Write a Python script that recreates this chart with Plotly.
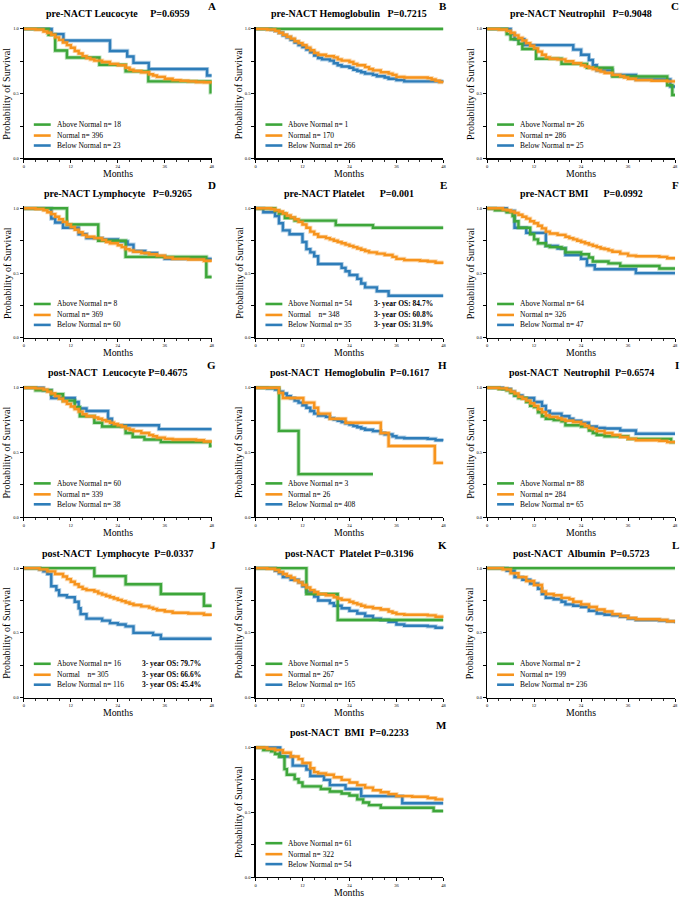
import plotly.graph_objects as go

# ---------------- data (Kaplan-Meier step points: months, survival) ----------------
A_above_t = [0, 6.3, 8, 11, 19.3, 26, 31.8, 47.7, 48]
A_above_s = [1.0, 0.954, 0.833, 0.779, 0.723, 0.672, 0.595, 0.51, 0.51]
A_normal_t = [0, 3, 5, 6, 7, 8, 9, 10, 11, 12, 13, 14, 15, 16, 17, 18, 20, 22, 24, 26, 27, 28, 30, 32, 33, 34, 36, 38, 40, 42, 44, 46, 48]
A_normal_s = [1.0, 0.995, 0.98, 0.97, 0.955, 0.935, 0.915, 0.895, 0.875, 0.855, 0.83, 0.81, 0.79, 0.775, 0.765, 0.755, 0.745, 0.73, 0.72, 0.70, 0.685, 0.675, 0.665, 0.65, 0.64, 0.63, 0.615, 0.605, 0.60, 0.595, 0.59, 0.588, 0.585]
A_below_t = [0, 7.1, 10.1, 22, 26.4, 28, 31.9, 46.8, 48]
A_below_s = [1.0, 0.96, 0.91, 0.83, 0.787, 0.738, 0.69, 0.64, 0.64]

B_above_t = [0, 48]
B_above_s = [1.0, 1.0]
B_normal_t = [0, 3, 5, 6, 7, 8, 9, 10, 11, 12, 13, 14, 15, 16, 18, 20, 21, 22, 24, 25, 26, 28, 29, 30, 32, 34, 35, 36, 38, 44, 45, 46, 47, 48]
B_normal_s = [1.0, 0.995, 0.985, 0.97, 0.955, 0.94, 0.925, 0.905, 0.89, 0.875, 0.855, 0.835, 0.815, 0.80, 0.79, 0.78, 0.765, 0.755, 0.745, 0.73, 0.72, 0.705, 0.69, 0.68, 0.665, 0.655, 0.645, 0.63, 0.625, 0.62, 0.61, 0.60, 0.59, 0.585]
B_below_t = [0, 4, 5, 6, 7, 8, 9, 10, 11, 12, 13, 14, 15, 16, 17, 19, 20, 21, 22, 24, 25, 26, 27, 28, 30, 31, 33, 34, 36, 38, 48]
B_below_s = [1.0, 0.995, 0.985, 0.97, 0.95, 0.935, 0.915, 0.895, 0.875, 0.86, 0.84, 0.82, 0.795, 0.775, 0.765, 0.755, 0.735, 0.72, 0.71, 0.70, 0.685, 0.675, 0.665, 0.655, 0.645, 0.635, 0.625, 0.615, 0.605, 0.595, 0.59]

C_above_t = [0, 5, 6, 8, 9, 12.5, 19, 25.5, 32, 46, 47.3, 48]
C_above_s = [1.0, 0.96, 0.92, 0.885, 0.845, 0.77, 0.73, 0.70, 0.633, 0.565, 0.49, 0.49]
C_normal_t = [0, 3, 5, 6, 7, 8, 9, 10, 11, 12, 13, 14, 15, 16, 18, 20, 22, 24, 25, 26, 27, 28, 29, 30, 32, 34, 35, 36, 38, 42, 46, 48]
C_normal_s = [1.0, 0.995, 0.985, 0.97, 0.95, 0.93, 0.91, 0.89, 0.87, 0.85, 0.825, 0.80, 0.78, 0.77, 0.765, 0.75, 0.735, 0.72, 0.71, 0.70, 0.69, 0.68, 0.67, 0.66, 0.645, 0.635, 0.625, 0.615, 0.605, 0.60, 0.595, 0.59]
C_below_t = [0, 6, 7, 9.5, 22, 24, 26, 27, 28, 32, 38, 46.8, 48]
C_below_s = [1.0, 0.96, 0.92, 0.875, 0.84, 0.80, 0.76, 0.72, 0.68, 0.645, 0.61, 0.555, 0.555]

D_above_t = [0, 11, 19, 26, 46.6, 48]
D_above_s = [1.0, 0.875, 0.75, 0.625, 0.47, 0.47]
D_normal_t = [0, 3, 5, 6, 7, 8, 9, 10, 11, 12, 13, 14, 15, 16, 18, 20, 21, 22, 24, 25, 26, 27, 28, 30, 32, 34, 36, 38, 42, 46, 48]
D_normal_s = [1.0, 0.995, 0.985, 0.97, 0.955, 0.935, 0.915, 0.895, 0.875, 0.855, 0.835, 0.815, 0.795, 0.78, 0.77, 0.755, 0.74, 0.73, 0.715, 0.70, 0.685, 0.675, 0.665, 0.655, 0.645, 0.635, 0.62, 0.61, 0.605, 0.595, 0.585]
D_below_t = [0, 7, 8, 10, 14, 16, 20, 24, 26.5, 28, 31, 34, 36, 48]
D_below_s = [1.0, 0.92, 0.89, 0.85, 0.80, 0.77, 0.76, 0.745, 0.72, 0.67, 0.655, 0.63, 0.61, 0.605]

E_above_t = [0, 5, 6, 7.5, 10, 20.5, 30, 48]
E_above_s = [1.0, 0.98, 0.96, 0.925, 0.905, 0.87, 0.85, 0.85]
E_normal_t = [0, 4, 5, 6, 7, 8, 9, 10, 11, 12, 13, 14, 15, 16, 18, 19, 20, 21, 22, 23, 24, 25, 26, 27, 28, 29, 31, 33, 35, 36, 38, 42, 44, 46, 48]
E_normal_s = [1.0, 0.995, 0.985, 0.975, 0.96, 0.945, 0.93, 0.915, 0.895, 0.875, 0.85, 0.82, 0.80, 0.78, 0.77, 0.76, 0.75, 0.74, 0.73, 0.72, 0.71, 0.70, 0.69, 0.68, 0.67, 0.66, 0.65, 0.64, 0.625, 0.61, 0.60, 0.595, 0.59, 0.58, 0.57]
E_below_t = [0, 2, 5, 6, 7, 8.7, 12, 13, 14, 15, 16, 22, 23, 24, 26, 27, 28, 31, 34, 48]
E_below_s = [1.0, 0.97, 0.94, 0.885, 0.83, 0.80, 0.74, 0.685, 0.66, 0.63, 0.57, 0.54, 0.514, 0.485, 0.455, 0.42, 0.39, 0.36, 0.325, 0.325]

F_above_t = [0, 2, 5, 6.5, 7, 8, 11, 12, 13, 15, 16, 19, 20, 24, 26, 27, 31, 34, 44, 48]
F_above_s = [1.0, 0.985, 0.97, 0.94, 0.90, 0.85, 0.80, 0.76, 0.73, 0.71, 0.70, 0.69, 0.66, 0.645, 0.62, 0.59, 0.575, 0.555, 0.535, 0.535]
F_normal_t = [0, 4, 5, 6, 7, 8, 9, 10, 11, 12, 13, 14, 15, 16, 18, 20, 21, 22, 23, 24, 25, 26, 27, 28, 29, 30, 31, 32, 34, 36, 38, 44, 46, 48]
F_normal_s = [1.0, 0.99, 0.985, 0.975, 0.965, 0.95, 0.935, 0.92, 0.90, 0.885, 0.865, 0.845, 0.82, 0.805, 0.795, 0.78, 0.77, 0.76, 0.75, 0.74, 0.73, 0.72, 0.71, 0.70, 0.69, 0.685, 0.675, 0.665, 0.65, 0.635, 0.63, 0.625, 0.615, 0.605]
F_below_t = [0, 5, 7, 10, 15, 18, 20, 24, 25.5, 27.5, 38, 48]
F_below_s = [1.0, 0.98, 0.85, 0.81, 0.71, 0.69, 0.64, 0.61, 0.56, 0.53, 0.50, 0.50]

G_above_t = [0, 3, 7, 10, 13, 14.3, 18, 20, 26, 27.8, 30.8, 35, 47.6, 48]
G_above_s = [1.0, 0.98, 0.95, 0.90, 0.85, 0.78, 0.73, 0.70, 0.65, 0.62, 0.60, 0.58, 0.55, 0.55]
G_normal_t = [0, 3, 5, 6, 7, 8, 9, 10, 11, 12, 13, 14, 15, 16, 18, 19, 20, 21, 22, 23, 24, 25, 26, 27, 28, 30, 32, 33, 34, 36, 38, 44, 46, 48]
G_normal_s = [1.0, 0.995, 0.985, 0.97, 0.955, 0.935, 0.915, 0.895, 0.875, 0.855, 0.835, 0.815, 0.795, 0.78, 0.77, 0.76, 0.75, 0.74, 0.73, 0.72, 0.71, 0.70, 0.685, 0.675, 0.665, 0.65, 0.635, 0.625, 0.615, 0.605, 0.60, 0.595, 0.585, 0.575]
G_below_t = [0, 5, 7, 13, 14, 16, 21.5, 22.5, 34.5, 48]
G_below_s = [1.0, 0.98, 0.92, 0.89, 0.84, 0.82, 0.76, 0.71, 0.68, 0.68]

H_above_t = [0, 6, 11, 30]
H_above_s = [1.0, 0.667, 0.333, 0.333]
H_normal_t = [0, 6, 7, 12.2, 15, 16, 19, 23, 32, 34, 45.8, 48]
H_normal_s = [1.0, 0.96, 0.92, 0.885, 0.845, 0.80, 0.76, 0.73, 0.65, 0.55, 0.42, 0.42]
H_below_t = [0, 3, 5, 6, 7, 8, 9, 10, 11, 12, 13, 14, 15, 16, 18, 19, 20, 21, 22, 23, 24, 25, 26, 27, 28, 30, 32, 33, 35, 36, 38, 44, 46, 48]
H_below_s = [1.0, 0.995, 0.985, 0.97, 0.955, 0.935, 0.92, 0.90, 0.885, 0.865, 0.845, 0.82, 0.80, 0.785, 0.775, 0.765, 0.755, 0.745, 0.735, 0.725, 0.715, 0.705, 0.695, 0.685, 0.675, 0.665, 0.65, 0.64, 0.625, 0.615, 0.61, 0.605, 0.595, 0.59]

I_above_t = [0, 3, 5, 6, 7, 8, 10, 11, 12, 13, 14, 15, 17, 19, 20, 24, 26, 27, 28, 30, 36, 47, 48]
I_above_s = [1.0, 0.99, 0.98, 0.96, 0.94, 0.92, 0.89, 0.86, 0.85, 0.81, 0.78, 0.76, 0.75, 0.74, 0.71, 0.70, 0.67, 0.65, 0.635, 0.625, 0.605, 0.58, 0.58]
I_normal_t = [0, 3, 5, 6, 7, 8, 9, 10, 11, 12, 13, 14, 15, 16, 18, 19, 20, 22, 24, 25, 26, 27, 28, 30, 32, 34, 36, 38, 44, 46, 48]
I_normal_s = [1.0, 0.995, 0.985, 0.97, 0.955, 0.93, 0.915, 0.90, 0.88, 0.86, 0.835, 0.81, 0.785, 0.775, 0.765, 0.755, 0.745, 0.735, 0.72, 0.705, 0.69, 0.68, 0.665, 0.65, 0.635, 0.62, 0.605, 0.595, 0.59, 0.58, 0.575]
I_below_t = [0, 4, 6, 7, 9, 12, 14, 15, 16, 19, 21, 22, 24, 26, 28, 30, 34, 38, 48]
I_below_s = [1.0, 0.99, 0.97, 0.94, 0.92, 0.89, 0.86, 0.82, 0.80, 0.78, 0.76, 0.745, 0.73, 0.70, 0.69, 0.685, 0.67, 0.645, 0.645]

J_above_t = [0, 18, 26, 35, 46, 48]
J_above_s = [1.0, 0.938, 0.875, 0.80, 0.71, 0.71]
J_normal_t = [0, 4, 6, 8, 10, 11, 12, 13, 14, 15, 16, 18, 19, 20, 21, 22, 23, 24, 25, 26, 27, 28, 30, 32, 33, 34, 36, 38, 42, 46, 48]
J_normal_s = [1.0, 0.99, 0.975, 0.955, 0.935, 0.915, 0.895, 0.875, 0.855, 0.84, 0.83, 0.82, 0.805, 0.795, 0.785, 0.775, 0.765, 0.755, 0.745, 0.735, 0.725, 0.715, 0.705, 0.695, 0.685, 0.675, 0.665, 0.655, 0.65, 0.64, 0.63]
J_below_t = [0, 4, 5, 6, 7, 8.3, 9, 11, 13, 14, 14.5, 16, 20, 22, 24, 26, 28, 33, 35, 48]
J_below_s = [1.0, 0.99, 0.975, 0.955, 0.86, 0.83, 0.79, 0.775, 0.74, 0.69, 0.645, 0.61, 0.595, 0.575, 0.565, 0.55, 0.50, 0.485, 0.455, 0.455]

K_above_t = [0, 13, 21, 48]
K_above_s = [1.0, 0.80, 0.60, 0.60]
K_normal_t = [0, 3, 5, 6, 7, 8, 9, 10, 11, 12, 13, 14, 15, 16, 18, 20, 21, 22, 24, 25, 26, 27, 28, 30, 32, 34, 35, 36, 38, 44, 46, 48]
K_normal_s = [1.0, 0.995, 0.985, 0.97, 0.955, 0.94, 0.925, 0.905, 0.89, 0.87, 0.85, 0.83, 0.815, 0.80, 0.79, 0.775, 0.765, 0.755, 0.74, 0.73, 0.72, 0.71, 0.70, 0.69, 0.68, 0.665, 0.655, 0.645, 0.64, 0.635, 0.625, 0.615]
K_below_t = [0, 5, 6, 7, 9, 11, 12, 13, 15, 16, 19, 20, 22, 24, 26, 28, 30, 32, 34, 36, 38, 44, 46, 48]
K_below_s = [1.0, 0.98, 0.96, 0.93, 0.91, 0.89, 0.86, 0.82, 0.78, 0.75, 0.73, 0.71, 0.69, 0.67, 0.65, 0.63, 0.61, 0.60, 0.585, 0.565, 0.555, 0.55, 0.54, 0.535]

L_above_t = [0, 48]
L_above_s = [1.0, 1.0]
L_normal_t = [0, 4, 6, 8, 10, 12, 14, 15, 17, 19, 21, 22, 24, 26, 28, 30, 32, 34, 36, 38, 44, 46, 48]
L_normal_s = [1.0, 0.99, 0.96, 0.93, 0.90, 0.87, 0.82, 0.80, 0.79, 0.77, 0.76, 0.74, 0.72, 0.70, 0.68, 0.665, 0.645, 0.63, 0.615, 0.605, 0.60, 0.59, 0.58]
L_below_t = [0, 5, 7, 9, 11, 13, 14, 15, 17, 19, 20, 22, 24, 26, 28, 30, 32, 34, 36, 38, 44, 46, 48]
L_below_s = [1.0, 0.98, 0.93, 0.91, 0.88, 0.84, 0.80, 0.77, 0.76, 0.74, 0.72, 0.71, 0.70, 0.67, 0.65, 0.64, 0.635, 0.625, 0.61, 0.60, 0.595, 0.59, 0.575]

M_above_t = [0, 2, 4, 5, 6, 7.4, 8, 10, 11, 12, 16.7, 19, 22, 24, 26, 27.5, 29, 32, 45.5, 48]
M_above_s = [1.0, 0.98, 0.97, 0.95, 0.93, 0.833, 0.79, 0.756, 0.73, 0.70, 0.68, 0.66, 0.645, 0.63, 0.60, 0.575, 0.555, 0.535, 0.51, 0.51]
M_normal_t = [0, 3, 5, 7, 9, 11, 12, 14, 15, 16, 18, 20, 22, 24, 26, 28, 30, 32, 34, 36, 40, 44, 46, 48]
M_normal_s = [1.0, 0.99, 0.98, 0.96, 0.93, 0.91, 0.88, 0.84, 0.81, 0.80, 0.79, 0.77, 0.75, 0.73, 0.71, 0.69, 0.67, 0.655, 0.64, 0.625, 0.62, 0.61, 0.60, 0.59]
M_below_t = [0, 6.3, 9.5, 13, 14, 17.5, 19, 23, 27, 37.5, 48]
M_below_s = [1.0, 0.93, 0.86, 0.83, 0.78, 0.75, 0.71, 0.68, 0.625, 0.57, 0.57]

GROUPS = ["Above Normal", "Normal", "Below Normal"]
X_TICKS = [0, 12, 24, 36, 48]
Y_TICKS = [0.0, 0.5, 1.0]

# panel: letter, title, n-values, 3-year OS texts (or None), series, (row, col)
PANELS = [
    ("A", "pre-NACT Leucocyte     P=0.6959", [18, 396, 23], None,
     [(A_above_t, A_above_s), (A_normal_t, A_normal_s), (A_below_t, A_below_s)], (0, 0)),
    ("B", "pre-NACT Hemoglobulin   P=0.7215", [1, 170, 266], None,
     [(B_above_t, B_above_s), (B_normal_t, B_normal_s), (B_below_t, B_below_s)], (0, 1)),
    ("C", "pre-NACT Neutrophil   P=0.9048", [26, 286, 25], None,
     [(C_above_t, C_above_s), (C_normal_t, C_normal_s), (C_below_t, C_below_s)], (0, 2)),
    ("D", "pre-NACT Lymphocyte   P=0.9265", [8, 369, 60], None,
     [(D_above_t, D_above_s), (D_normal_t, D_normal_s), (D_below_t, D_below_s)], (1, 0)),
    ("E", "pre-NACT Platelet      P=0.001", [54, 348, 35], ["84.7%", "60.8%", "31.9%"],
     [(E_above_t, E_above_s), (E_normal_t, E_normal_s), (E_below_t, E_below_s)], (1, 1)),
    ("F", "pre-NACT BMI      P=0.0992", [64, 326, 47], None,
     [(F_above_t, F_above_s), (F_normal_t, F_normal_s), (F_below_t, F_below_s)], (1, 2)),
    ("G", "post-NACT  Leucocyte P=0.4675", [60, 339, 38], None,
     [(G_above_t, G_above_s), (G_normal_t, G_normal_s), (G_below_t, G_below_s)], (2, 0)),
    ("H", "post-NACT  Hemoglobulin  P=0.1617", [3, 26, 408], None,
     [(H_above_t, H_above_s), (H_normal_t, H_normal_s), (H_below_t, H_below_s)], (2, 1)),
    ("I", "post-NACT  Neutrophil  P=0.6574", [88, 284, 65], None,
     [(I_above_t, I_above_s), (I_normal_t, I_normal_s), (I_below_t, I_below_s)], (2, 2)),
    ("J", "post-NACT  Lymphocyte  P=0.0337", [16, 305, 116], ["79.7%", "66.6%", "45.4%"],
     [(J_above_t, J_above_s), (J_normal_t, J_normal_s), (J_below_t, J_below_s)], (3, 0)),
    ("K", "post-NACT  Platelet P=0.3196", [5, 267, 165], None,
     [(K_above_t, K_above_s), (K_normal_t, K_normal_s), (K_below_t, K_below_s)], (3, 1)),
    ("L", "post-NACT  Albumin  P=0.5723", [2, 199, 236], None,
     [(L_above_t, L_above_s), (L_normal_t, L_normal_s), (L_below_t, L_below_s)], (3, 2)),
    ("M", "post-NACT  BMI  P=0.2233", [61, 322, 54], None,
     [(M_above_t, M_above_s), (M_normal_t, M_normal_s), (M_below_t, M_below_s)], (4, 1)),
]

# ---------------- styling / layout ----------------
W, H = 685, 902
COLORS = ["#3DA63A", "#F7941D", "#2E7DB9"]
HALOS = ["rgba(61,166,58,0.35)", "rgba(247,148,29,0.35)", "rgba(46,125,185,0.35)"]
DRAW_ORDER = [2, 0, 1]
FONT = "Liberation Serif"
COL_LEFT = [23, 256, 489]
ROW_TOP = [29, 209, 389, 570, 750]
PW, PH = 189, 130
YTOP = 1.015


def px(x):
    return x / W


def py(y):
    return 1 - y / H


def nb(s):
    return s.replace(" ", "\u00a0")


fig = go.Figure()
annotations = []
shapes = []

for k, (letter, title, ns, os_vals, series, (r, c)) in enumerate(PANELS, start=1):
    sid = "" if k == 1 else str(k)
    left, top = COL_LEFT[c], ROW_TOP[r]
    right, bottom = left + PW, top + PH
    top_ext = top - (YTOP - 1.0) * PH

    fig.update_layout(**{
        f"xaxis{sid}": dict(
            domain=[px(left), px(right)], range=[0, 48], anchor=f"y{sid}",
            showline=True, linecolor="black", linewidth=1.2, mirror=False,
            ticks="outside", ticklen=3, tickwidth=1, tickcolor="black",
            tickvals=X_TICKS, ticktext=[str(v) for v in X_TICKS],
            minor=dict(ticks="outside", tickvals=list(range(0, 49, 3)), ticklen=2,
                       tickwidth=0.8, tickcolor="black", showgrid=False),
            tickfont=dict(family=FONT, size=4.5, color="black"),
            showgrid=False, zeroline=False, fixedrange=True),
        f"yaxis{sid}": dict(
            domain=[py(bottom), py(top_ext)], range=[0, YTOP], anchor=f"x{sid}",
            showline=True, linecolor="black", linewidth=1.2,
            ticks="outside", ticklen=3, tickwidth=1, tickcolor="black",
            tickvals=Y_TICKS, ticktext=[f"{v:.1f}" for v in Y_TICKS],
            minor=dict(ticks="outside", tickvals=[0.25, 0.75], ticklen=3,
                       tickwidth=1, tickcolor="black", showgrid=False),
            tickfont=dict(family=FONT, size=4.5, color="black"),
            showgrid=False, zeroline=False, fixedrange=True),
    })

    for gi in DRAW_ORDER:
        t, s = series[gi]
        fig.add_trace(go.Scatter(x=t, y=s, mode="lines", line=dict(color=HALOS[gi], width=4.2, shape="hv"),
                                 xaxis=f"x{sid}", yaxis=f"y{sid}", hoverinfo="skip", showlegend=False))
        fig.add_trace(go.Scatter(x=t, y=s, mode="lines", line=dict(color=COLORS[gi], width=2.4, shape="hv"),
                                 xaxis=f"x{sid}", yaxis=f"y{sid}", name=GROUPS[gi], showlegend=False))

    # title, panel letter, axis titles
    annotations.append(dict(text=f"<b>{nb(title)}</b>", x=px((left + right) / 2), y=py(top - 15),
                            xref="paper", yref="paper", showarrow=False, xanchor="center", yanchor="middle",
                            font=dict(family=FONT, size=10, color="black")))
    annotations.append(dict(text=f"<b>{letter}</b>", x=px(min(right + 6, 684)), y=py(top - 23),
                            xref="paper", yref="paper", showarrow=False, xanchor="right", yanchor="middle",
                            font=dict(family=FONT, size=11, color="black")))
    annotations.append(dict(text="Months", x=px((left + right) / 2), y=py(bottom + 15),
                            xref="paper", yref="paper", showarrow=False, xanchor="center", yanchor="middle",
                            font=dict(family=FONT, size=9.8, color="black")))
    annotations.append(dict(text=nb("Probability of Survival"), x=px(left - 17), y=py((top + bottom) / 2),
                            xref="paper", yref="paper", showarrow=False, xanchor="center", yanchor="middle",
                            textangle=-90, font=dict(family=FONT, size=10, color="black")))

    # legend block
    for gi, dy in enumerate([96, 107, 117]):
        yy = py(top + dy)
        shapes.append(dict(type="line", xref="paper", yref="paper", x0=px(left + 10), x1=px(left + 27),
                           y0=yy, y1=yy, line=dict(color=COLORS[gi], width=2.6)))
        name = GROUPS[gi]
        if os_vals is not None and gi == 1:
            label = f"{name}    n= {ns[gi]}"
        else:
            label = f"{name} n= {ns[gi]}"
        annotations.append(dict(text=nb(label), x=px(left + 31), y=yy, xref="paper", yref="paper",
                                showarrow=False, xanchor="left", yanchor="middle",
                                font=dict(family=FONT, size=7.5, color="black")))
        if os_vals is not None:
            annotations.append(dict(text=f"<b>{nb('3- year OS: ' + os_vals[gi])}</b>", x=px(left + 117), y=yy,
                                    xref="paper", yref="paper", showarrow=False, xanchor="left",
                                    yanchor="middle", font=dict(family=FONT, size=7.5, color="black")))

fig.update_layout(width=W, height=H, margin=dict(l=0, r=0, t=0, b=0),
                  plot_bgcolor="white", paper_bgcolor="white", showlegend=False,
                  font=dict(family=FONT, color="black"),
                  annotations=annotations, shapes=shapes)

# remove the default page margin so the figure sits at the window's top-left corner
fig.write_html("out.html", config={"displayModeBar": False, "staticPlot": True},
               post_script="document.body.style.margin='0px';document.body.style.overflow='hidden';")
